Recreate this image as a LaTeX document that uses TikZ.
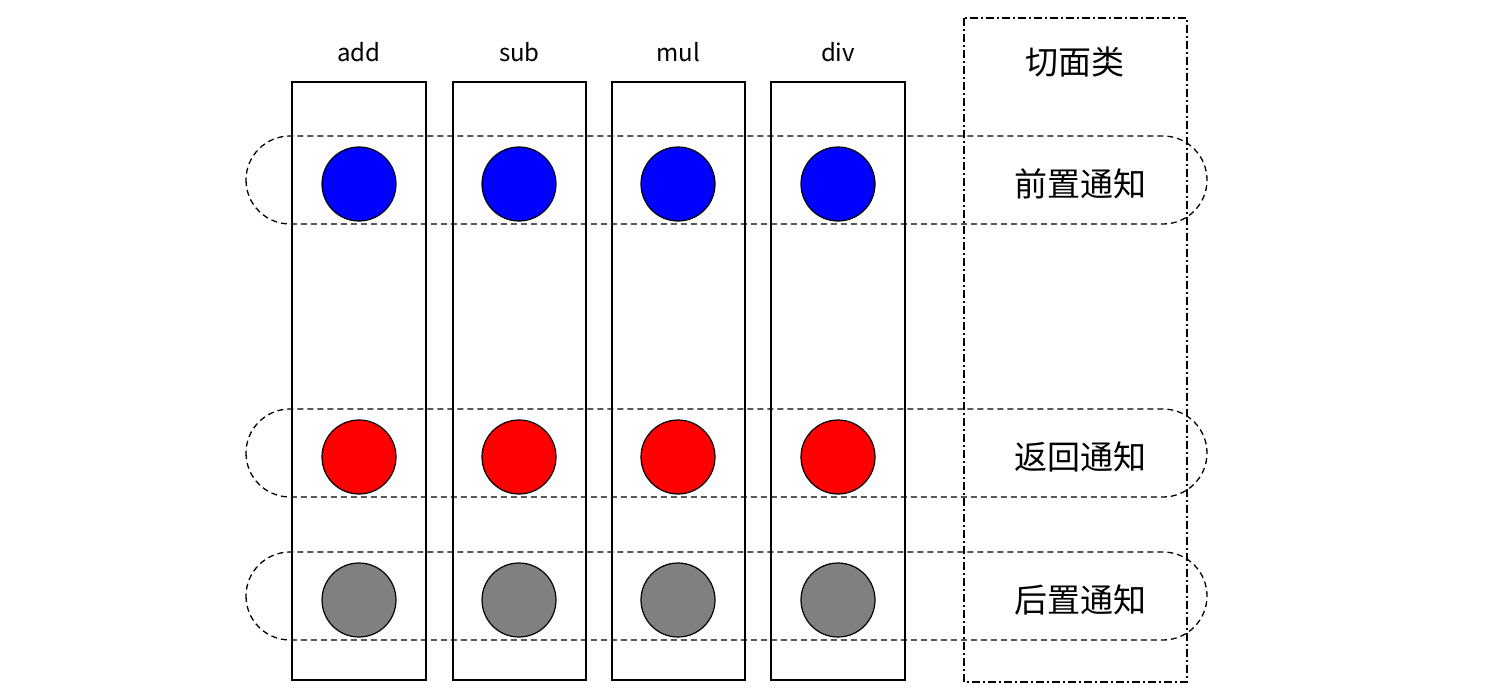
\documentclass[tikz,border=0pt]{standalone}
\usepackage{fontspec}
\setmainfont{Noto Sans CJK SC}
\begin{document}
\begin{tikzpicture}[x=1pt,y=-1pt,
  col/.style={draw,line width=1.5pt},
  dot/.style={circle,draw,line width=1.2pt,minimum size=74pt,inner sep=0pt},
  band/.style={draw,line width=1.3pt,dash pattern=on 6pt off 4pt,rounded corners=44pt},
  lab/.style={font=\fontsize{24}{28}\selectfont},
  cn/.style={font=\fontsize{33}{38}\selectfont}]
\useasboundingbox (0,0) rectangle (1498,693);
\foreach \n/\a/\b/\t in {a/292/426/add,s/453/586/sub,m/612/745/mul,d/771/905/div}{
  \draw[col] (\a,82) rectangle (\b,680);
  \node[lab] (t\n) at ({(\a+\b)/2},52) {\t};
}
\draw[line width=1.3pt,dash pattern=on 8pt off 3pt on 2pt off 3pt] (964,18) rectangle (1187,682);
\node[cn] (aspect) at (1075,62) {切面类};
\foreach \y/\t/\c in {184/前置通知/blue,457/返回通知/red,600/后置通知/gray}{
  \draw[band] (246,{\y-48}) rectangle (1207,{\y+40});
  \node[cn] at (1080,\y) {\t};
  \foreach \x in {359,519,678,838}
    \node[dot,fill=\c] at (\x,\y) {};
}
\end{tikzpicture}
\end{document}
